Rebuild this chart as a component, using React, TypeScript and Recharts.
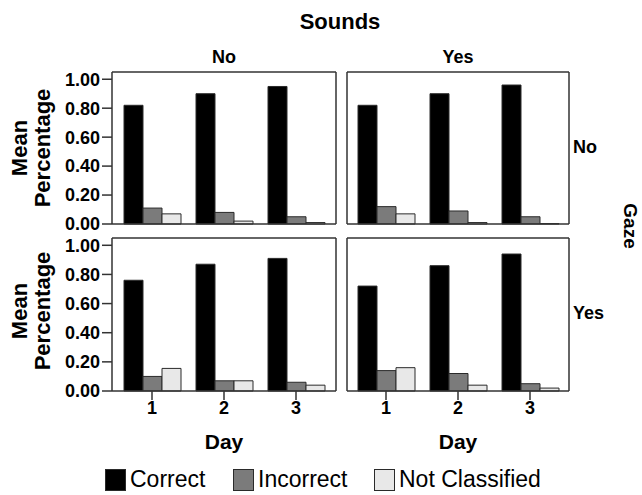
import { Bar, BarChart, XAxis, YAxis } from "recharts";

const days = ["1", "2", "3"];
const yTicks = [0, 0.2, 0.4, 0.6, 0.8, 1.0];

// Gaze No, Sounds No
const correctGNoSNo = [0.82, 0.9, 0.95];
const incorrectGNoSNo = [0.11, 0.08, 0.05];
const notClassGNoSNo = [0.07, 0.02, 0.01];

// Gaze No, Sounds Yes
const correctGNoSYes = [0.82, 0.9, 0.96];
const incorrectGNoSYes = [0.12, 0.09, 0.05];
const notClassGNoSYes = [0.07, 0.01, 0.003];

// Gaze Yes, Sounds No
const correctGYesSNo = [0.76, 0.87, 0.91];
const incorrectGYesSNo = [0.1, 0.07, 0.06];
const notClassGYesSNo = [0.155, 0.07, 0.04];

// Gaze Yes, Sounds Yes
const correctGYesSYes = [0.72, 0.86, 0.94];
const incorrectGYesSYes = [0.14, 0.12, 0.05];
const notClassGYesSYes = [0.16, 0.04, 0.02];

const FONT = "'Liberation Sans', Arial, Helvetica, sans-serif";
const BLACK = "#000000";
const GRAY = "#7b7b7b";
const LIGHT = "#e8e8e8";
const EDGE = "#2a2a2a";

function rows(c: number[], i: number[], n: number[]) {
	return days.map((d, k) => ({
		day: d,
		correct: c[k],
		incorrect: i[k],
		notClassified: n[k],
	}));
}

const axisLine = { stroke: "#333", strokeWidth: 1.5 };
const tickText = { fontSize: 18, fontWeight: 700, fill: "#000", fontFamily: FONT };

interface PanelProps {
	data: ReturnType<typeof rows>;
	x: number;
	y: number;
	w: number;
	h: number;
	showY: boolean;
	showX: boolean;
	pad: number;
}

function Panel({ data, x, y, w, h, showY, showX, pad }: PanelProps) {
	const M = 4;
	const MB = showX ? 4 : 12;
	const yw = showY ? 60 : 1;
	const xh = showX ? 36 : 1;
	return (
		<div style={{ position: "absolute", left: x - M - yw, top: y - M - 1 }}>
			<BarChart
				width={M + yw + w + 1 + M}
				height={M + 1 + h + xh + MB}
				data={data}
				margin={{ top: M, right: M, bottom: MB, left: M }}
				barGap={0}
				barSize={19}
			>
				<XAxis
					dataKey="day"
					padding={{ left: pad, right: pad }}
					axisLine={axisLine}
					tickLine={showX ? axisLine : false}
					tick={showX ? tickText : false}
					tickSize={9}
					tickMargin={1}
					height={xh}
					interval={0}
				/>
				<XAxis
					xAxisId="top"
					orientation="top"
					dataKey="day"
					padding={{ left: pad, right: pad }}
					axisLine={axisLine}
					tickLine={false}
					tick={false}
					height={1}
				/>
				<YAxis
					domain={[0, 1.05]}
					ticks={yTicks}
					interval={0}
					tickFormatter={(v: number) => v.toFixed(2)}
					axisLine={axisLine}
					tickLine={showY ? axisLine : false}
					tick={showY ? tickText : false}
					tickSize={10}
					tickMargin={2}
					width={yw}
				/>
				<YAxis
					yAxisId="right"
					orientation="right"
					domain={[0, 1.05]}
					axisLine={axisLine}
					tickLine={false}
					tick={false}
					width={1}
				/>
				<Bar dataKey="correct" fill={BLACK} stroke={EDGE} strokeWidth={1} isAnimationActive={false} />
				<Bar dataKey="incorrect" fill={GRAY} stroke={EDGE} strokeWidth={1} isAnimationActive={false} />
				<Bar dataKey="notClassified" fill={LIGHT} stroke={EDGE} strokeWidth={1} isAnimationActive={false} />
			</BarChart>
		</div>
	);
}

function Label({
	text,
	cx,
	cy,
	size,
	bold = true,
	rotate = 0,
	left,
}: {
	text: string;
	cx?: number;
	cy: number;
	size: number;
	bold?: boolean;
	rotate?: number;
	left?: number;
}) {
	const style: React.CSSProperties = {
		position: "absolute",
		top: cy,
		fontSize: size,
		lineHeight: `${size}px`,
		fontWeight: bold ? 700 : 400,
		whiteSpace: "nowrap",
		color: "#000",
	};
	if (left !== undefined) {
		style.left = left;
		style.transform = "translateY(-50%)";
	} else {
		style.left = cx;
		style.transform = `translate(-50%, -50%) rotate(${rotate}deg)`;
	}
	return <div style={style}>{text}</div>;
}

function YTitle({ cy }: { cy: number }) {
	return (
		<div
			style={{
				position: "absolute",
				left: 30.5,
				top: cy,
				transform: "translate(-50%, -50%) rotate(-90deg)",
				fontSize: 22,
				lineHeight: "23px",
				fontWeight: 700,
				textAlign: "center",
				whiteSpace: "nowrap",
			}}
		>
			Mean
			<br />
			Percentage
		</div>
	);
}

const legendItems = [
	{ name: "Correct", color: BLACK, left: 105 },
	{ name: "Incorrect", color: GRAY, left: 233 },
	{ name: "Not Classified", color: LIGHT, left: 374 },
];

export default function App() {
	return (
		<div
			style={{
				position: "absolute",
				left: 0,
				top: 0,
				width: 642,
				height: 495,
				background: "#fff",
				fontFamily: FONT,
				overflow: "hidden",
			}}
		>
			<Label text="Sounds" cx={340} cy={21.5} size={22} />
			<Label text="No" cx={224} cy={56.5} size={18} />
			<Label text="Yes" cx={458} cy={56.5} size={18} />

			<Panel data={rows(correctGNoSNo, incorrectGNoSNo, notClassGNoSNo)} x={112} y={72} w={224} h={152} showY showX={false} pad={4} />
			<Panel data={rows(correctGNoSYes, incorrectGNoSYes, notClassGNoSYes)} x={347} y={72} w={222} h={152} showY={false} showX={false} pad={3} />
			<Panel data={rows(correctGYesSNo, incorrectGYesSNo, notClassGYesSNo)} x={112} y={238} w={224} h={153} showY showX pad={4} />
			<Panel data={rows(correctGYesSYes, incorrectGYesSYes, notClassGYesSYes)} x={347} y={238} w={222} h={153} showY={false} showX pad={3} />

			<Label text="No" left={573} cy={146.5} size={18} />
			<Label text="Yes" left={573} cy={313} size={18} />
			<Label text="Gaze" cx={630} cy={225.5} size={19} rotate={90} />

			<YTitle cy={147.5} />
			<YTitle cy={310.5} />

			<Label text="Day" cx={224} cy={441} size={21} />
			<Label text="Day" cx={458} cy={441} size={21} />

			{legendItems.map((it) => (
				<div
					key={it.name}
					style={{
						position: "absolute",
						left: it.left,
						top: 468,
						display: "flex",
						alignItems: "center",
						height: 23,
					}}
				>
					<div
						style={{
							width: 19,
							height: 20,
							background: it.color,
							border: `1.5px solid ${EDGE}`,
							marginRight: 4,
						}}
					/>
					<span style={{ fontSize: 23, lineHeight: "23px" }}>{it.name}</span>
				</div>
			))}
		</div>
	);
}
